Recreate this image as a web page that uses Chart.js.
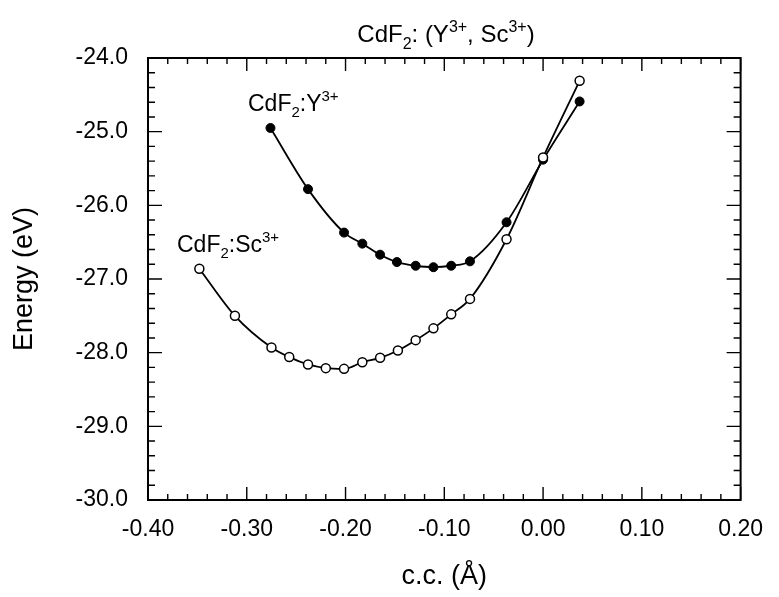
<!DOCTYPE html>
<html>
<head>
<meta charset="utf-8">
<script src="https://cdn.jsdelivr.net/npm/chart.js@4/dist/chart.umd.min.js"></script>
<style>
  html, body { margin: 0; padding: 0; background: #fff; }
  #wrap { width: 779px; height: 597px; }
</style>
</head>
<body>
<div id="wrap"><canvas id="chart" width="779" height="597"></canvas></div>
<script>
// CdF2:Y3+  (filled circles)
const ccY     = [-0.276, -0.238, -0.2015, -0.183, -0.165, -0.148, -0.129, -0.111, -0.093, -0.074, -0.037, 0.000, 0.037];
const energyY = [-24.95, -25.78, -26.37, -26.52, -26.67, -26.77, -26.82, -26.84, -26.82, -26.76, -26.23, -25.38, -24.59];

// CdF2:Sc3+ (open circles)
const ccSc     = [-0.348, -0.312, -0.275, -0.257, -0.238, -0.220, -0.2015, -0.183, -0.165, -0.147, -0.129, -0.111, -0.093, -0.074, -0.037, 0.000, 0.037];
const energySc = [-26.86, -27.50, -27.93, -28.06, -28.16, -28.21, -28.22, -28.13, -28.07, -27.97, -27.83, -27.67, -27.48, -27.27, -26.46, -25.35, -24.31];

const xTicks = [-0.40, -0.30, -0.20, -0.10, 0.00, 0.10, 0.20];
const yTicks = [-30.0, -29.0, -28.0, -27.0, -26.0, -25.0, -24.0];

const FONT = "'Liberation Sans', Arial, Helvetica, sans-serif";

function toPoints(xs, ys) {
  return xs.map((v, i) => ({ x: v, y: ys[i] }));
}

// text with sub/superscripts: parts = [[text, 'n'|'sub'|'sup'], ...]
function drawRich(ctx, parts, x, y, size, align) {
  const small = Math.round(size * 0.66);
  const fontOf = k => (k === 'n' ? size : small) + 'px ' + FONT;
  let w = 0;
  parts.forEach(([t, k]) => { ctx.font = fontOf(k); w += ctx.measureText(t).width; });
  let cx = align === 'center' ? x - w / 2 : x;
  ctx.textBaseline = 'alphabetic';
  ctx.textAlign = 'left';
  parts.forEach(([t, k]) => {
    ctx.font = fontOf(k);
    let dy = 0;
    if (k === 'sub') dy = size * 0.28;
    if (k === 'sup') dy = -size * 0.42;
    ctx.fillText(t, cx, y + dy);
    cx += ctx.measureText(t).width;
  });
}

const frameAndText = {
  id: 'frameAndText',
  afterDatasetsDraw(chart) {
    const { ctx, chartArea: a, scales: { x, y } } = chart;
    ctx.save();
    ctx.strokeStyle = '#000';
    ctx.lineWidth = 1.4;
    ctx.beginPath();
    // x ticks, inward, bottom and top
    for (let i = 0; i <= 30; i++) {
      const px = x.getPixelForValue(-0.4 + i * 0.02);
      const len = i % 5 === 0 ? 13 : 6;
      ctx.moveTo(px, a.bottom); ctx.lineTo(px, a.bottom - len);
      ctx.moveTo(px, a.top); ctx.lineTo(px, a.top + len);
    }
    // y ticks, inward, left and right
    for (let i = 0; i <= 30; i++) {
      const py = y.getPixelForValue(-30 + i * 0.2);
      const len = i % 5 === 0 ? 14 : 7;
      ctx.moveTo(a.left, py); ctx.lineTo(a.left + len, py);
      ctx.moveTo(a.right, py); ctx.lineTo(a.right - len, py);
    }
    ctx.stroke();
    ctx.lineWidth = 2;
    ctx.strokeRect(a.left, a.top, a.right - a.left, a.bottom - a.top);

    ctx.fillStyle = '#000';
    drawRich(ctx, [['CdF', 'n'], ['2', 'sub'], [': (Y', 'n'], ['3+', 'sup'], [', Sc', 'n'], ['3+', 'sup'], [')', 'n']],
      446, 42, 24, 'center');
    drawRich(ctx, [['CdF', 'n'], ['2', 'sub'], [':Y', 'n'], ['3+', 'sup']], 248, 111, 23, 'left');
    drawRich(ctx, [['CdF', 'n'], ['2', 'sub'], [':Sc', 'n'], ['3+', 'sup']], 177, 252, 23, 'left');
    ctx.restore();
  }
};

new Chart(document.getElementById('chart'), {
  type: 'line',
  data: {
    datasets: [
      {
        label: 'CdF2:Sc3+',
        data: toPoints(ccSc, energySc),
        borderColor: '#000',
        borderWidth: 1.8,
        cubicInterpolationMode: 'monotone',
        pointRadius: 4.5,
        pointBorderWidth: 1.5,
        pointBackgroundColor: '#fff',
        pointBorderColor: '#000'
      },
      {
        label: 'CdF2:Y3+',
        data: toPoints(ccY, energyY),
        borderColor: '#000',
        borderWidth: 1.8,
        cubicInterpolationMode: 'monotone',
        pointRadius: 4.5,
        pointBorderWidth: 1,
        pointBackgroundColor: '#000',
        pointBorderColor: '#000'
      }
    ]
  },
  options: {
    responsive: false,
    animation: false,
    layout: { padding: { left: 0, right: 31, top: 58, bottom: 0 } },
    plugins: {
      legend: { display: false },
      tooltip: { enabled: false },
      title: { display: false }
    },
    scales: {
      x: {
        type: 'linear',
        min: -0.4,
        max: 0.2,
        grid: { display: false, drawTicks: false },
        border: { display: false },
        afterBuildTicks: s => { s.ticks = xTicks.map(v => ({ value: v })); },
        afterFit: s => { s.height = 97; },
        ticks: {
          padding: 16,
          color: '#000',
          font: { family: FONT, size: 23 },
          maxRotation: 0,
          callback: v => (Math.abs(v) < 1e-9 ? 0 : v).toFixed(2)
        },
        title: {
          display: true,
          text: 'c.c. (Å)',
          color: '#000',
          font: { family: FONT, size: 27 },
          padding: { top: 0, bottom: 4 }
        }
      },
      y: {
        type: 'linear',
        min: -30,
        max: -24,
        grid: { display: false, drawTicks: false },
        border: { display: false },
        afterBuildTicks: s => { s.ticks = yTicks.map(v => ({ value: v })); },
        afterFit: s => { s.width = 148; },
        ticks: {
          padding: 20,
          color: '#000',
          font: { family: FONT, size: 23 },
          callback: v => v.toFixed(1)
        },
        title: {
          display: true,
          text: 'Energy (eV)',
          color: '#000',
          font: { family: FONT, size: 27 },
          padding: { top: 8, bottom: 0 }
        }
      }
    }
  },
  plugins: [frameAndText]
});
</script>
</body>
</html>
